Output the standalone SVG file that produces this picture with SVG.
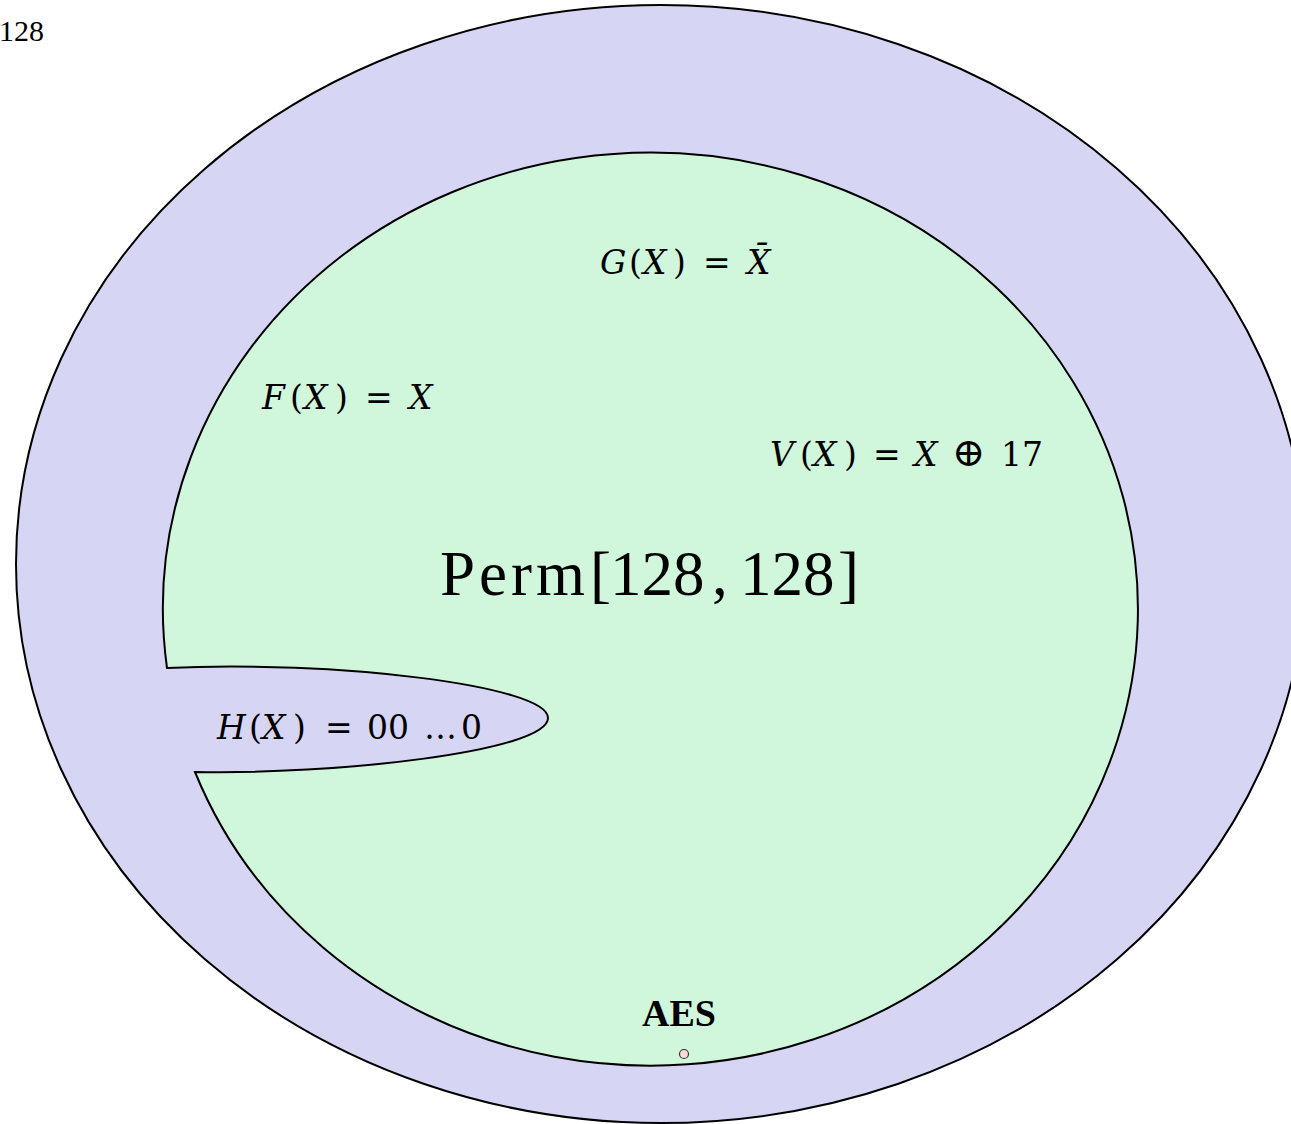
<svg xmlns="http://www.w3.org/2000/svg" width="1291" height="1124" viewBox="0 0 1291 1124">
  <style>
    .set { stroke: #000; stroke-width: 2; }
    .outer { fill: #d6d6f4; }
    .inner { fill: #d0f7dc; }
    .t { font-family: "Liberation Serif", "DejaVu Serif", serif; fill: #000; }
    .m { font-family: "DejaVu Serif", "Liberation Serif", serif; font-size: 33px; }
    .i { font-style: italic; }
    .op { font-size: 40px; }
    .big { font-size: 63px; }
    .aes { font-size: 38px; font-weight: bold; }
    .dot { fill: #fcd9d9; stroke: #333; stroke-width: 1.2; }
  </style>
  <rect width="1291" height="1124" fill="#fff"/>
  <g id="corner-label">
    <text class="t" x="44" y="41" font-size="30" text-anchor="end">128</text>
  </g>
  <g id="outer-set">
    <ellipse class="set outer" cx="661" cy="564" rx="645" ry="559"/>
  </g>
  <g id="perm-set">
    <path class="set inner" d="M 167,668 C 330,660 548,685 548,718 C 548,752 330,775 195,772 A 487.5 456.5 0 1 0 167,668 Z"/>
    <text class="t big" y="595"><tspan x="440" letter-spacing="4">Perm</tspan><tspan x="590">[</tspan><tspan x="610">128</tspan><tspan x="712">,</tspan><tspan x="740">128</tspan><tspan x="838">]</tspan></text>
  </g>
  <g id="node-G">
    <text class="t m" y="274"><tspan x="600" class="i">G</tspan><tspan x="629">(</tspan><tspan x="643" class="i">X</tspan><tspan x="673">)</tspan><tspan x="703">=</tspan><tspan x="747" class="i">X̄</tspan></text>
  </g>
  <g id="node-F">
    <text class="t m" y="409"><tspan x="262" class="i">F</tspan><tspan x="290">(</tspan><tspan x="304" class="i">X</tspan><tspan x="335">)</tspan><tspan x="365">=</tspan><tspan x="409" class="i">X</tspan></text>
  </g>
  <g id="node-V">
    <text class="t m" y="466"><tspan x="770" class="i">V</tspan><tspan x="800">(</tspan><tspan x="813" class="i">X</tspan><tspan x="844">)</tspan><tspan x="873">=</tspan><tspan x="914" class="i">X</tspan><tspan x="952" class="op">⊕</tspan><tspan x="1001">17</tspan></text>
  </g>
  <g id="node-H">
    <text class="t m" y="739"><tspan x="217" class="i">H</tspan><tspan x="249">(</tspan><tspan x="262" class="i">X</tspan><tspan x="293">)</tspan><tspan x="325">=</tspan><tspan x="367">00</tspan><tspan x="424">…</tspan><tspan x="461">0</tspan></text>
  </g>
  <g id="node-AES">
    <text class="t aes" x="679" y="1026" text-anchor="middle">AES</text>
    <circle class="dot" cx="684" cy="1054" r="4.5"/>
  </g>
  <g id="connectors"/>
</svg>
